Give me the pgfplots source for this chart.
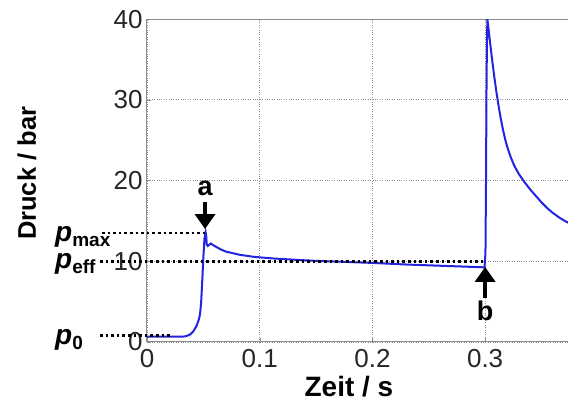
\documentclass[border=0pt]{standalone}
\usepackage{fontspec}
\setmainfont{Liberation Sans}
\usepackage{pgfplots}
\pgfplotsset{compat=1.18}
\usetikzlibrary{arrows.meta}
\definecolor{curve}{RGB}{35,35,225}
\newcommand\plab[1]{\fontsize{28}{28}\selectfont\bfseries\itshape p\raisebox{-5pt}{\fontsize{19}{19}\selectfont\upshape #1}}
\begin{document}
\begin{tikzpicture}
\begin{axis}[name=A,
  scale only axis, width=428.3pt, height=322.8pt,
  xmin=0, xmax=0.38, ymin=0, ymax=40,
  xtick={0,0.1,0.2,0.3}, xticklabels={0,0.1,0.2,0.3},
  ytick={0,10,20,30,40},
  grid=major,
  grid style={black!45, dotted, line width=0.9pt},
  axis line style={black!45, line width=1pt},
  tick style={black!45},
  major tick length=4pt,
  tick align=inside,
  xtick pos=bottom, ytick pos=left,
  /pgf/number format/assume math mode=true,
  ticklabel style={font=\fontsize{26}{26}\selectfont, text=black!85},
  xticklabel style={yshift=-4pt},
  yticklabel style={xshift=-1pt},
  clip=false,
]
\addplot[curve, line width=2pt] coordinates {
(0,0.65) (0.03,0.65) (0.034,0.7) (0.038,0.9) (0.041,1.3) (0.044,2.0) (0.046,2.8)
(0.047,3.4) (0.048,4.8) (0.049,7.5) (0.050,10.5) (0.0510,12.8) (0.0520,13.6)
(0.0525,13.2) (0.0530,12.1) (0.0540,11.9) (0.0565,12.2) (0.060,11.9)
(0.065,11.5) (0.070,11.2) (0.0825,10.8) (0.095,10.55) (0.112,10.35) (0.13,10.2)
(0.15,10.05) (0.171,9.95) (0.2,9.8) (0.23,9.6) (0.26,9.45) (0.28,9.35) (0.2995,9.25)
(0.3003,11) (0.3008,20) (0.3012,31) (0.3016,37) (0.3020,40)
(0.304,37.6) (0.306,35.2) (0.308,33.0) (0.310,31.0) (0.312,29.2) (0.314,27.6)
(0.316,26.2) (0.318,25.0) (0.320,24.0) (0.323,22.8) (0.326,21.8) (0.330,20.8)
(0.335,19.8) (0.340,18.9) (0.345,18.1) (0.350,17.3) (0.355,16.6) (0.360,16.0)
(0.366,15.4) (0.372,14.9) (0.380,14.4)
};
% dotted guide lines
\draw[black, line width=2.6pt, dash pattern=on 2.6pt off 3pt] (axis cs:-0.040,13.5) -- (axis cs:0.0515,13.5);
\draw[black, line width=2.6pt, dash pattern=on 2.6pt off 3pt] (axis cs:-0.0417,10) -- (axis cs:0.3,10);
\draw[black, line width=2.6pt, dash pattern=on 2.6pt off 3pt] (axis cs:-0.0417,0.8) -- (axis cs:0.0204,0.8);
% labels p
\node[anchor=base west, inner sep=0pt] at (axis cs:-0.0816,12.4) {\plab{max}};
\node[anchor=base west, inner sep=0pt] at (axis cs:-0.0816,9.13) {\plab{eff}};
\node[anchor=base west, inner sep=0pt] at (axis cs:-0.0816,-0.37) {\plab{0}};
% arrows
\draw[line width=4pt, -{Triangle[width=20pt,length=15pt]}] (axis cs:0.0515,17.3) -- (axis cs:0.0515,14.0);
\draw[line width=4pt, -{Triangle[width=20pt,length=15pt]}] (axis cs:0.3,5.4) -- (axis cs:0.3,9.3);
\node[anchor=base, inner sep=0pt, font=\fontsize{27}{27}\selectfont\bfseries] at (axis cs:0.0515,18.2) {a};
\node[anchor=base, inner sep=0pt, font=\fontsize{27}{27}\selectfont\bfseries] at (axis cs:0.3,2.7) {b};
% axis labels
\node[anchor=base, inner sep=0pt, font=\fontsize{28}{28}\selectfont\bfseries] at (axis cs:0.1792,-6.75) {Zeit / s};
\node[rotate=90, anchor=center, inner sep=0pt, font=\fontsize{25.5}{25.5}\selectfont\bfseries] at (axis cs:-0.1065,20.9) {Druck / bar};
\end{axis}
\pgfresetboundingbox
\path[use as bounding box] (A.south west) ++(-147pt,-61pt) rectangle ++(568pt,403pt);
\end{tikzpicture}
\end{document}
